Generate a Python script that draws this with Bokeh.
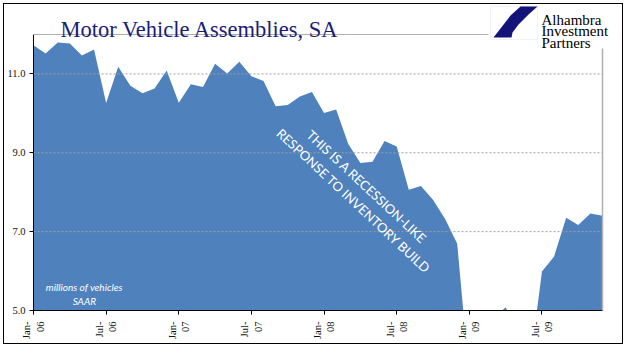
import math
from bokeh.plotting import figure
from bokeh.models import (Range1d, FixedTicker, Label, BoxAnnotation, PolyAnnotation,
                          Span)
from bokeh.embed import file_html
from bokeh.resources import INLINE

months = ["Jan-06", "Feb-06", "Mar-06", "Apr-06", "May-06", "Jun-06",
          "Jul-06", "Aug-06", "Sep-06", "Oct-06", "Nov-06", "Dec-06",
          "Jan-07", "Feb-07", "Mar-07", "Apr-07", "May-07", "Jun-07",
          "Jul-07", "Aug-07", "Sep-07", "Oct-07", "Nov-07", "Dec-07",
          "Jan-08", "Feb-08", "Mar-08", "Apr-08", "May-08", "Jun-08",
          "Jul-08", "Aug-08", "Sep-08", "Oct-08", "Nov-08", "Dec-08",
          "Jan-09", "Feb-09", "Mar-09", "Apr-09", "May-09", "Jun-09",
          "Jul-09", "Aug-09", "Sep-09", "Oct-09", "Nov-09", "Dec-09"]
assemblies = [11.73, 11.52, 11.80, 11.77, 11.47, 11.62,
              10.26, 11.18, 10.70, 10.51, 10.63, 11.09,
              10.27, 10.74, 10.67, 11.26, 11.01, 11.31,
              10.94, 10.82, 10.18, 10.21, 10.43, 10.54,
              10.01, 10.10, 9.22, 8.74, 8.77, 9.30,
              9.16, 8.06, 8.16, 7.81, 7.32, 6.69,
              3.30, 4.00, 4.80, 5.08, 4.50, 3.60,
              5.99, 6.37, 7.35, 7.17, 7.46, 7.40]
x_tick_pos = [0, 6, 12, 18, 24, 30, 36, 42]
x_tick_labels = ["Jan-\n06", "Jul-\n06", "Jan-\n07", "Jul-\n07",
                 "Jan-\n08", "Jul-\n08", "Jan-\n09", "Jul-\n09"]
y_ticks = [5, 7, 9, 11]
y_tick_labels = ["5.0", "7.0", "9.0", "11.0"]
y_min, y_max = 5, 12
title_text = "Motor Vehicle Assemblies, SA"
logo_lines = ["Alhambra", "Investment", "Partners"]
note_text = "THIS IS A RECESSION-LIKE\nRESPONSE TO INVENTORY BUILD"
unit_text = "millions of vehicles\nSAAR"

# layout (canvas pixels)
W, H = 618, 339
FRAME_LEFT, DATA_RIGHT, FRAME_RIGHT = 29, 598, 616
FRAME_BOTTOM = 306
PX_PER_UNIT = 276 / 7.0
x_last = len(months) - 1
px_per_month = (DATA_RIGHT - FRAME_LEFT) / x_last
x_right = x_last + (FRAME_RIGHT - DATA_RIGHT) / px_per_month
y_top = y_min + FRAME_BOTTOM / PX_PER_UNIT

p = figure(width=W, height=H, x_range=Range1d(0, x_right),
           y_range=Range1d(y_min, y_top), output_backend="svg",
           toolbar_location=None, title_location=None,
           min_border_left=FRAME_LEFT, min_border_right=W - FRAME_RIGHT,
           min_border_top=0, min_border_bottom=H - FRAME_BOTTOM)
p.styles = {"margin-left": "4px", "margin-top": "4px",
            "outline": "1.5px solid black"}
p.outline_line_color = None

xs = list(range(len(months)))
p.varea(x=xs, y1=0, y2=assemblies, fill_color="#4F81BD")

serif = "Liberation Serif"
for ax in (p.xaxis, p.yaxis):
    ax.axis_line_color = "black"
    ax.major_tick_line_color = "black"
    ax.major_tick_in = 0
    ax.major_tick_out = 4
    ax.minor_tick_line_color = None
    ax.major_label_text_font = serif
    ax.major_label_text_font_size = "10.5px"
    ax.major_label_text_color = "#111111"

p.xaxis.ticker = FixedTicker(ticks=x_tick_pos)
p.xaxis.major_label_overrides = dict(zip(x_tick_pos, x_tick_labels))
p.xaxis.major_label_orientation = math.pi / 2
p.xaxis.major_label_standoff = 7
p.xaxis.bounds = (0, x_last)
p.yaxis.ticker = FixedTicker(ticks=y_ticks)
p.yaxis.major_label_overrides = dict(zip(y_ticks, y_tick_labels))
p.yaxis.major_label_standoff = 4
p.yaxis.bounds = (y_min, y_max)

# horizontal dashed grid lines, limited to the plot area
p.xgrid.visible = False
p.ygrid.visible = False
grid_y = y_ticks[1:]
p.segment(x0=[0] * len(grid_y), x1=[x_last] * len(grid_y), y0=grid_y, y1=grid_y,
          line_color="#A0A0A0", line_dash="2 2", line_width=1)

# plot-area frame (top and right, light grey)
p.add_layout(Span(location=y_max, dimension="width", line_color="#B0B0B0", line_width=1))
p.add_layout(Span(location=x_last, dimension="height", line_color="#B0B0B0",
                  line_width=1.5))

# title
p.add_layout(Label(x=56, y=25, x_units="canvas", y_units="canvas", text=title_text,
                   text_font=serif, text_font_size="22.5px", text_color="#1B1B78",
                   text_baseline="alphabetic"))

# logo
p.add_layout(BoxAnnotation(left=484, right=FRAME_RIGHT, top=0, bottom=44,
                           left_units="canvas", right_units="canvas",
                           top_units="canvas", bottom_units="canvas",
                           fill_color="white", fill_alpha=1, line_color=None))
p.add_layout(BoxAnnotation(left=486, right=533, top=2, bottom=35,
                           left_units="canvas", right_units="canvas",
                           top_units="canvas", bottom_units="canvas",
                           fill_color="white", fill_alpha=1, line_color="#D8D8D8"))
p.add_layout(PolyAnnotation(xs=[516, 533, 524, 514, 508, 507, 489, 496, 506],
                            ys=[2, 2, 10, 20, 28, 33, 33, 24, 11],
                            xs_units="canvas", ys_units="canvas",
                            fill_color="#13137A", fill_alpha=1, line_color=None))
for i, t in enumerate(logo_lines):
    p.add_layout(Label(x=537, y=15 + 11.7 * i, x_units="canvas", y_units="canvas",
                       text=t, text_font=serif, text_font_size="15px",
                       text_color="black", text_baseline="alphabetic"))

# annotations
p.add_layout(Label(x=27, y=7.96, text=note_text, angle=-43, angle_units="deg",
                   text_align="center", text_baseline="middle", text_color="white",
                   text_font="Lato", text_font_size="13px"))
p.add_layout(Label(x=4.2, y=5.42, text=unit_text, text_align="center",
                   text_baseline="middle", text_color="white", text_font="Lato",
                   text_font_style="italic", text_font_size="10px"))

open("out.html", "w").write(file_html(p, INLINE))
